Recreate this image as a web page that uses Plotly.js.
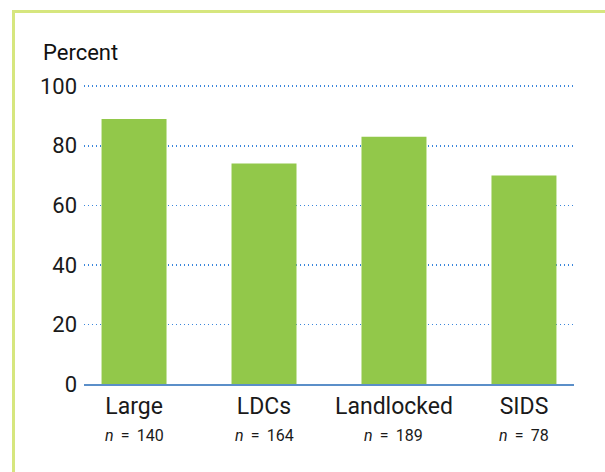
<!DOCTYPE html>
<html>
<head>
<meta charset="utf-8">
<script src="https://cdn.plot.ly/plotly-3.0.1.min.js"></script>
<style>
  html, body { margin: 0; padding: 0; background: #fff; }
  #frame { position: absolute; left: 12px; top: 10px; width: 593px; height: 462px;
           border-left: 3px solid #d6e67e; border-top: 3px solid #d6e67e; box-sizing: border-box; }
  #chart { position: absolute; left: 0; top: 0; width: 605px; height: 472px; }
</style>
</head>
<body>
<div id="frame"></div>
<div id="chart"></div>
<script>
const categories = ["Large", "LDCs", "Landlocked", "SIDS"];
const percentValues = [89, 74, 83, 70];
const sampleSizes = [140, 164, 189, 78];
const yTickValues = [0, 20, 40, 60, 80, 100];

const W = 605, H = 472;
const L = 84, R = 31, T = 85, B = 88;

const trace = {
  type: "bar",
  x: categories,
  y: percentValues,
  marker: { color: "#92c84a" },
  width: 0.5,
  hoverinfo: "skip"
};

const annotations = categories.map((c, i) => ({
  x: c, xref: "x",
  y: 0, yref: "paper",
  yanchor: "middle",
  yshift: -51,
  showarrow: false,
  text: "<i>n</i>\u2009 =\u2009 " + sampleSizes[i],
  font: { family: "Roboto, sans-serif", size: 16, color: "#1a1a1a" }
}));
annotations.push({
  x: 0, xref: "paper", xanchor: "left", xshift: -43,
  y: 1, yref: "paper", yanchor: "middle", yshift: 33,
  showarrow: false,
  text: "Percent",
  font: { family: "Roboto, sans-serif", size: 22, color: "#111" }
});

const layout = {
  width: W, height: H,
  margin: { l: L, r: R, t: T, b: B, pad: 0 },
  paper_bgcolor: "rgba(0,0,0,0)",
  plot_bgcolor: "rgba(0,0,0,0)",
  showlegend: false,
  xaxis: {
    type: "category",
    range: [-0.385, 3.385],
    showgrid: false,
    showline: true, linecolor: "#5b8fc9", linewidth: 2,
    ticks: "",
    tickfont: { family: "Roboto, sans-serif", size: 23, color: "#1a1a1a" },
    ticklabelstandoff: 0,
    fixedrange: true
  },
  yaxis: {
    range: [0, 100.4],
    tickvals: yTickValues,
    ticktext: yTickValues.map(String),
    showgrid: true, gridcolor: "#3a86dc", griddash: "1px,3px", gridwidth: 1.6,
    zeroline: false, showline: false,
    ticks: "",
    ticklabelstandoff: 6,
    tickfont: { family: "Roboto, sans-serif", size: 22, color: "#1a1a1a" },
    fixedrange: true
  },
  annotations: annotations
};

Plotly.newPlot("chart", [trace], layout, { displayModeBar: false, staticPlot: true });
</script>
</body>
</html>
